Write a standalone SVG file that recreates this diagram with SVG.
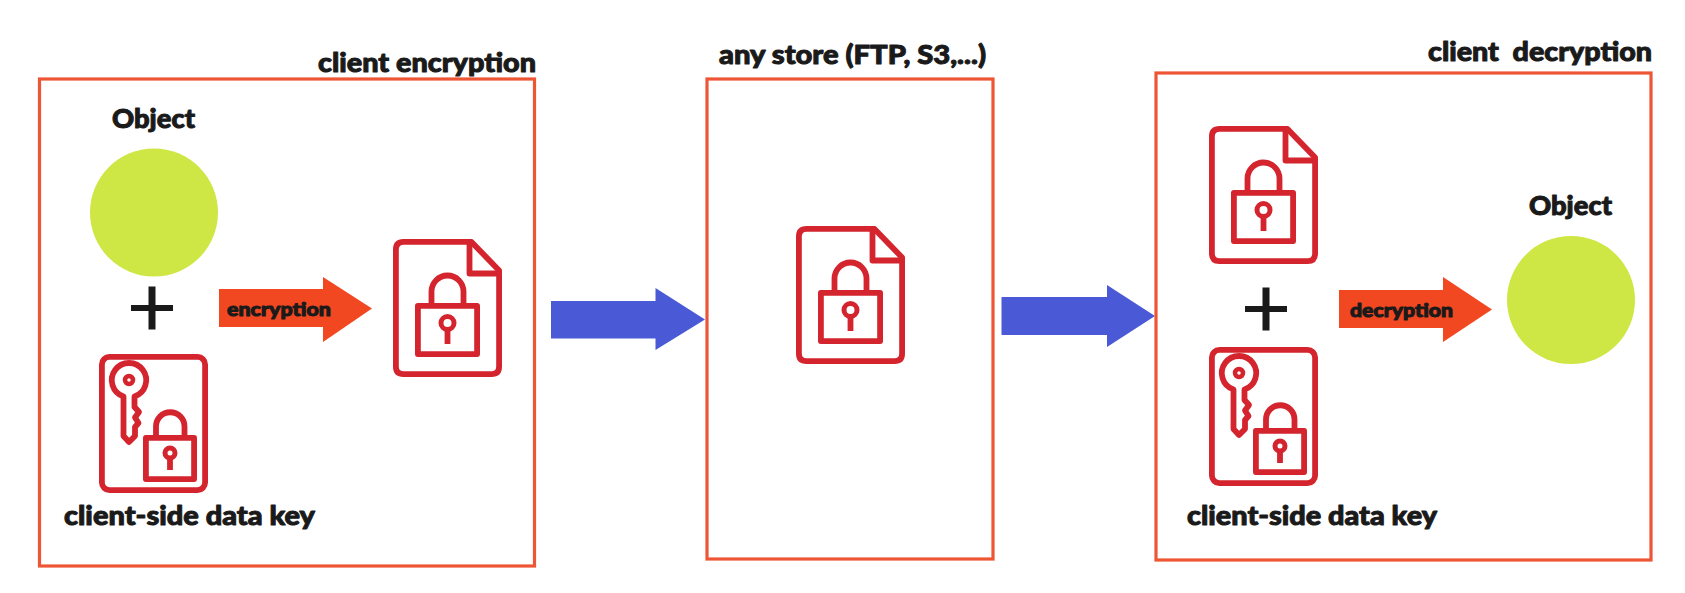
<svg xmlns="http://www.w3.org/2000/svg" xmlns:xlink="http://www.w3.org/1999/xlink" width="1685" height="593" viewBox="0 0 1685 593">
<style>
.box{fill:none;stroke:#ee5535;stroke-width:3.2}
.obj{fill:#cfe744}
.ln{fill:none;stroke:#d4242e;stroke-width:5.8;stroke-linejoin:round}
.dot{fill:none;stroke:#d4242e;stroke-width:5}
.plus{fill:#1a1a1a}
.orange{fill:#f24822}
.blue{fill:#4a5ad6}
text{font-family:"Lato","Open Sans","Liberation Sans",sans-serif;font-weight:900;fill:#1a1a1a;stroke:#1a1a1a;stroke-width:1;stroke-linejoin:round;white-space:pre}
.t{font-size:27px}
.s{font-size:19px}
</style>
<defs>
<g id="file">
<path class="ln" d="M10.500 2.900H78.500L106.100 31.500V127.500Q106.100 135.100 98.500 135.100H10.500Q2.900 135.100 2.900 127.500V10.500Q2.900 2.900 10.500 2.900Z"/>
<path class="ln" d="M76.500 3V34.500H106"/>
<path class="ln" d="M24.900 66.900H84.100V115.100H24.900Z"/>
<path class="ln" d="M38.500 66V52.500A16 16 0 0 1 70.500 52.500V66"/>
<circle class="dot" cx="54.500" cy="84" r="6.500"/>
<path class="ln" style="stroke-linejoin:miter" d="M54.500 90V105"/>
</g>
<g id="keydoc">
<rect class="ln" x="2.900" y="2.900" width="103.200" height="133.200" rx="7.500"/>
<path class="ln" d="M24.500 42.500A17.200 17.200 0 1 1 35.500 42.500V53L40 58L36 63.500L39.500 69L36 73V82L30 88L24.500 82Z"/>
<circle cx="30" cy="26" r="4" fill="none" stroke="#d4242e" stroke-width="4.500"/>
<path class="ln" d="M46.900 83.900H95.100V125.100H46.900Z"/>
<path class="ln" d="M57 83V72.500A14.250 14.250 0 0 1 85.500 72.500V83"/>
<circle class="dot" cx="71" cy="99" r="5"/>
<path class="ln" style="stroke-linejoin:miter" d="M71 103.500V116"/>
</g>
<path id="plussign" class="plus" d="M-3.500 -21.500H3.500V-3H21V3H3.500V21.500H-3.500V3H-21V-3H-3.500Z"/>
</defs>

<rect width="1685" height="593" fill="#fff"/>

<g id="connectors">
<path id="arrow-store-in" class="blue" d="M551 301H655.500V288L705 319.500L655.500 350V338.500H551Z"/>
<path id="arrow-store-out" class="blue" d="M1001.500 297H1107V285L1155 316L1107 347V335H1001.500Z"/>
<path id="arrow-encrypt" class="orange" d="M219 289H323V277L372 308.500L323 342V327H219Z"/>
<path id="arrow-decrypt" class="orange" d="M1339 290H1443V277L1492 309.500L1443 342V328H1339Z"/>
</g>

<g id="client-encryption">
<rect class="box" x="39.500" y="79" width="495" height="487"/>
<text class="t" x="318" y="72" textLength="218" lengthAdjust="spacingAndGlyphs">client encryption</text>
</g>
<g id="object-source">
<text class="t" x="112" y="128" textLength="83" lengthAdjust="spacingAndGlyphs">Object</text>
<circle class="obj" cx="154" cy="212.500" r="64"/>
</g>
<g id="plus-encrypt"><use xlink:href="#plussign" href="#plussign" x="152" y="308"/></g>
<g id="label-encryption"><text class="s" x="227" y="316" textLength="104" lengthAdjust="spacingAndGlyphs">encryption</text></g>
<g id="key-encrypt">
<use xlink:href="#keydoc" href="#keydoc" x="99" y="354"/>
<text class="t" x="64" y="525" textLength="251" lengthAdjust="spacingAndGlyphs">client-side data key</text>
</g>
<g id="file-encrypted"><use xlink:href="#file" href="#file" x="393" y="239"/></g>

<g id="any-store">
<rect class="box" x="707" y="79" width="286" height="480"/>
<text class="t" x="719" y="64" textLength="267" lengthAdjust="spacingAndGlyphs">any store (FTP, S3,...)</text>
</g>
<g id="file-stored"><use xlink:href="#file" href="#file" x="796" y="226"/></g>

<g id="client-decryption">
<rect class="box" x="1156" y="73" width="495" height="487"/>
<text class="t" x="1428" y="61" textLength="224" lengthAdjust="spacingAndGlyphs">client  decryption</text>
</g>
<g id="file-retrieved"><use xlink:href="#file" href="#file" x="1209" y="126"/></g>
<g id="plus-decrypt"><use xlink:href="#plussign" href="#plussign" x="1266" y="309"/></g>
<g id="label-decryption"><text class="s" x="1350" y="317" textLength="103" lengthAdjust="spacingAndGlyphs">decryption</text></g>
<g id="key-decrypt">
<use xlink:href="#keydoc" href="#keydoc" x="1209" y="347"/>
<text class="t" x="1187" y="525" textLength="250" lengthAdjust="spacingAndGlyphs">client-side data key</text>
</g>
<g id="object-result">
<text class="t" x="1529" y="215" textLength="83" lengthAdjust="spacingAndGlyphs">Object</text>
<circle class="obj" cx="1571" cy="300" r="64"/>
</g>
</svg>
